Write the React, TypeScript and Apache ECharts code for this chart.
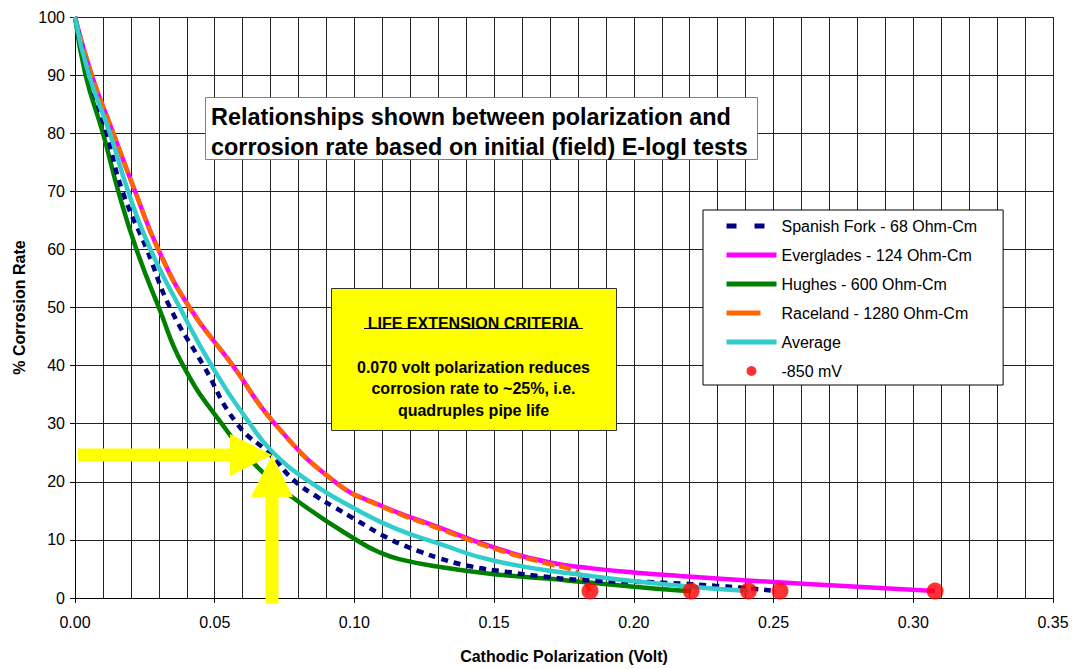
import React, { useEffect, useRef } from "react";
import * as echarts from "echarts";

// ---- data (x = cathodic polarization in volt, y = % corrosion rate) ----
const spanishFork: [number, number][] = [
  [0, 100], [0.005, 90], [0.0113, 80], [0.017, 70], [0.0257, 60], [0.034, 50],
  [0.046, 40], [0.058, 30], [0.0704, 24.5], [0.078, 20.4], [0.087, 17.3],
  [0.093, 15.6], [0.1, 13.6], [0.112, 10.3], [0.119, 8.8], [0.124, 7.9],
  [0.13, 6.9], [0.141, 5.5], [0.1545, 4.5], [0.1675, 3.7], [0.181, 3.1],
  [0.212, 2.6], [0.229, 2.1], [0.238, 1.8], [0.249, 1.3],
];
const everglades: [number, number][] = [
  [0, 100], [0.006, 90], [0.0137, 80], [0.0215, 70], [0.0298, 60], [0.041, 50],
  [0.0565, 40], [0.0715, 30], [0.093, 20], [0.109, 16.0], [0.13, 12.2],
  [0.15, 8.7], [0.17, 6.1], [0.185, 5.1], [0.2, 4.4], [0.2165, 3.8],
  [0.262, 2.4], [0.3078, 1.2],
];
const hughes: [number, number][] = [
  [0, 100], [0.0038, 90], [0.01, 80], [0.0155, 70], [0.022, 60], [0.03, 50],
  [0.0387, 40], [0.0525, 30], [0.066, 22.2], [0.0805, 16.4], [0.102, 9.6],
  [0.109, 7.85], [0.116, 6.7], [0.13, 5.4], [0.15, 4.1], [0.17, 3.3],
  [0.181, 2.8], [0.2, 1.95], [0.2165, 1.3], [0.2205, 1.2],
];
const raceland: [number, number][] = [
  [0, 100], [0.006, 90], [0.0137, 80], [0.0215, 70], [0.0298, 60], [0.041, 50],
  [0.0565, 40], [0.0715, 30], [0.093, 20], [0.109, 15.9], [0.13, 12.0],
  [0.15, 8.5], [0.17, 5.8], [0.177, 5.0], [0.181, 3.8], [0.1843, 1.2],
];
const average: [number, number][] = [
  [0, 100], [0.005, 90], [0.0125, 80], [0.019, 70], [0.027, 60], [0.0375, 50],
  [0.0489, 40], [0.0626, 30], [0.071, 25], [0.084, 20], [0.102, 14.9],
  [0.115, 11.9], [0.13, 9.4], [0.15, 6.4], [0.181, 4.0], [0.2165, 2.1],
  [0.241, 1.2],
];
const minus850: [number, number][] = [
  [0.1843, 1.2], [0.2205, 1.2], [0.241, 1.2], [0.2523, 1.2], [0.3078, 1.2],
];

const seriesNames = [
  "Spanish Fork - 68 Ohm-Cm",
  "Everglades - 124 Ohm-Cm",
  "Hughes - 600 Ohm-Cm",
  "Raceland - 1280 Ohm-Cm",
  "Average",
  "-850 mV",
];

// arrows point at 0.070 V / ~25 %
const arrowTip: [number, number] = [0.0705, 24.6];
const arrowTailX = 0.001;
const arrowTailY = -1.0;

const titleLines = [
  "Relationships shown between polarization and",
  "corrosion rate based on initial (field) E-logI tests",
];
const boxHeading = "LIFE EXTENSION CRITERIA";
const boxLines = [
  "0.070 volt polarization reduces",
  "corrosion rate to ~25%, i.e.",
  "quadruples pipe life",
];
const xAxisTitle = "Cathodic Polarization (Volt)";
const yAxisTitle = "% Corrosion Rate";

export default function App() {
  const ref = useRef<HTMLDivElement>(null);

  useEffect(() => {
    const chart = echarts.init(ref.current!, null, { renderer: "svg" });
    const FONT = "'Liberation Sans', Arial, Helvetica, sans-serif";
    const gridColor = "#222";

    const lineSeries = (
      name: string,
      data: [number, number][],
      color: string,
      width: number,
      type: any,
      z: number
    ) => ({
      name,
      type: "line",
      data,
      symbol: "none",
      showSymbol: false,
      smooth: 0.5,
      lineStyle: { color, width, type, cap: "butt" },
      itemStyle: { color },
      z,
      silent: true,
    });

    const hideSym = { opacity: 0 };

    chart.setOption({
      animation: false,
      backgroundColor: "#fff",
      textStyle: { fontFamily: FONT, color: "#000" },
      grid: { left: 75, right: 20, top: 17, bottom: 70, containLabel: false },
      xAxis: {
        type: "value",
        min: 0,
        max: 0.35,
        interval: 0.05,
        name: xAxisTitle,
        nameLocation: "middle",
        nameGap: 50,
        nameTextStyle: { fontFamily: FONT, fontWeight: "bold", fontSize: 16, color: "#000" },
        axisLine: { show: true, lineStyle: { color: "#000", width: 1 } },
        axisTick: { show: true, inside: false, length: 5, lineStyle: { color: "#000" } },
        minorTick: { show: false, splitNumber: 5 },
        axisLabel: {
          fontFamily: FONT,
          fontSize: 16,
          color: "#000",
          margin: 16,
          formatter: (v: number) => v.toFixed(2),
        },
        splitLine: { show: true, lineStyle: { color: gridColor, width: 1 } },
        minorSplitLine: { show: true, lineStyle: { color: gridColor, width: 1 } },
      },
      yAxis: {
        type: "value",
        min: 0,
        max: 100,
        interval: 10,
        name: yAxisTitle,
        nameLocation: "middle",
        nameRotate: 90,
        nameGap: 46,
        nameTextStyle: { fontFamily: FONT, fontWeight: "bold", fontSize: 16, color: "#000" },
        axisLine: { show: true, lineStyle: { color: "#000", width: 1 } },
        axisTick: { show: true, inside: false, length: 5, lineStyle: { color: "#000" } },
        axisLabel: { fontFamily: FONT, fontSize: 16, color: "#000", margin: 10 },
        splitLine: { show: true, lineStyle: { color: gridColor, width: 1 } },
      },
      legend: {
        orient: "vertical",
        left: 703,
        top: 210,
        itemWidth: 50,
        itemHeight: 10,
        itemGap: 13,
        padding: [8, 26, 6, 21],
        backgroundColor: "#fff",
        borderColor: "#000",
        borderWidth: 1,
        selectedMode: false,
        textStyle: { fontFamily: FONT, fontSize: 16, color: "#000" },
        data: [
          { name: seriesNames[0], lineStyle: { type: [10, 18], width: 5 }, itemStyle: hideSym },
          { name: seriesNames[1], lineStyle: { width: 5 }, itemStyle: hideSym },
          { name: seriesNames[2], lineStyle: { width: 5 }, itemStyle: hideSym },
          { name: seriesNames[3], lineStyle: { type: [34, 30], width: 5 }, itemStyle: hideSym },
          { name: seriesNames[4], lineStyle: { width: 5 }, itemStyle: hideSym },
          { name: seriesNames[5], icon: "circle" },
        ],
      },
      series: [
        lineSeries(seriesNames[1], everglades, "#FF00FF", 4.5, "solid", 2),
        lineSeries(seriesNames[3], raceland, "#FF6600", 4.5, [12, 5], 3),
        lineSeries(seriesNames[2], hughes, "#008000", 4.5, "solid", 2),
        lineSeries(seriesNames[0], spanishFork, "#000080", 4.5, [7, 6], 3),
        lineSeries(seriesNames[4], average, "#33CCCC", 4.5, "solid", 3),
        {
          name: seriesNames[5],
          type: "scatter",
          data: minus850,
          symbol: "circle",
          symbolSize: 17,
          itemStyle: { color: "#FF0000" },
          z: 5,
          silent: true,
        },
      ],
    });

    const tip = chart.convertToPixel({ gridIndex: 0 }, arrowTip) as number[];
    const hTail = chart.convertToPixel({ gridIndex: 0 }, [arrowTailX, arrowTip[1]]) as number[];
    const vTail = chart.convertToPixel({ gridIndex: 0 }, [arrowTip[0], arrowTailY]) as number[];
    const sh = 6.5; // half shaft thickness
    const hh = 21; // half head width
    const hl = 42; // head length
    const yellow = "#FFFF00";

    const hArrow = [
      [hTail[0], tip[1] - sh], [tip[0] - hl, tip[1] - sh], [tip[0] - hl, tip[1] - hh],
      [tip[0], tip[1]], [tip[0] - hl, tip[1] + hh], [tip[0] - hl, tip[1] + sh],
      [hTail[0], tip[1] + sh],
    ];
    const vArrow = [
      [tip[0] - sh, vTail[1]], [tip[0] - sh, tip[1] + hl], [tip[0] - hh, tip[1] + hl],
      [tip[0], tip[1]], [tip[0] + hh, tip[1] + hl], [tip[0] + sh, tip[1] + hl],
      [tip[0] + sh, vTail[1]],
    ];

    chart.setOption({
      graphic: [
        { type: "polygon", z: 20, shape: { points: hArrow }, style: { fill: yellow, stroke: null } },
        { type: "polygon", z: 20, shape: { points: vArrow }, style: { fill: yellow, stroke: null } },
        {
          type: "rect",
          z: 20,
          shape: { x: 205.5, y: 97.5, width: 552, height: 62 },
          style: { fill: "#fff", stroke: "#808080", lineWidth: 1 },
        },
        {
          type: "text",
          z: 21,
          style: {
            text: titleLines.join("\n"),
            x: 211,
            y: 102,
            font: `bold 23.4px ${FONT}`,
            fill: "#000",
            align: "left",
            verticalAlign: "top",
            lineHeight: 30,
          },
        },
        {
          type: "rect",
          z: 20,
          shape: { x: 331.5, y: 288.5, width: 285, height: 142 },
          style: { fill: yellow, stroke: "#333", lineWidth: 1 },
        },
        {
          type: "text",
          z: 21,
          style: {
            text: boxHeading,
            x: 473.5,
            y: 323,
            font: `bold 16px ${FONT}`,
            fill: "#000",
            align: "center",
            verticalAlign: "middle",
          },
        },
        {
          type: "line",
          z: 21,
          shape: { x1: 364, y1: 328.5, x2: 583, y2: 328.5 },
          style: { stroke: "#000", lineWidth: 1.2 },
        },
        {
          type: "text",
          z: 21,
          style: {
            text: boxLines.join("\n"),
            x: 473.5,
            y: 356.5,
            font: `bold 16px ${FONT}`,
            fill: "#000",
            align: "center",
            verticalAlign: "top",
            lineHeight: 21.5,
          },
        },
      ],
    });

    return () => chart.dispose();
  }, []);

  return (
    <div
      ref={ref}
      style={{ position: "absolute", left: 0, top: 0, width: 1073, height: 669 }}
    />
  );
}
